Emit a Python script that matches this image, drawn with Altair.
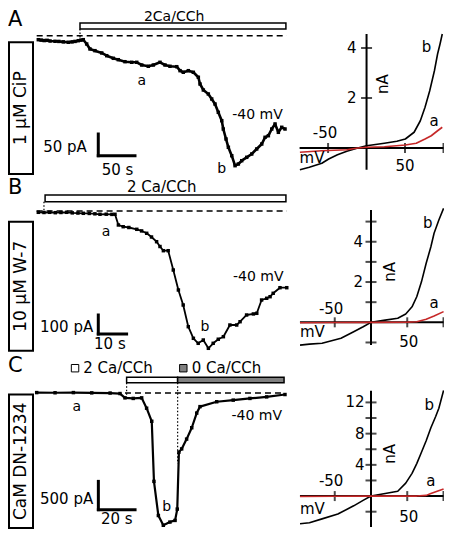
import altair as alt
import pandas as pd

FONT = "DejaVu Sans"
W, H = 436, 521
RED = "#c62828"
GRAY = "#808080"

# ---------------- time courses (time in s, current in pA) ----------------
A_t = [0, 4, 8, 12, 16, 22.8, 28, 34, 40.9, 46, 50, 54.5, 58, 61.3, 65.9,
       70.4, 77.2, 86.4, 93.2, 102.2, 109.0, 118.1, 127.2, 134.1, 140.9,
       149.9, 156.7, 165.8, 172.6, 179.4, 188.6, 193.1, 197.5, 204.4, 211.2,
       218.0, 220.3, 224.8, 231.6, 236.2, 240.7, 245.2, 249.9, 252.0, 255.7,
       258.9, 263.5, 268.0, 272.5, 277.1, 283.9, 290.7, 297.5, 304.4, 308.9,
       313.4, 318.0, 322.5, 327.0, 331.6, 336.1]
A_I = [0, -1, -2, -1.5, -3, -3.7, -4, -5, -6, -5, -4, -2.3, -1, 0, -9.9,
       -21.4, -25.3, -30.6, -36.9, -42.9, -46.1, -50.7, -52.1, -52.1, -58.3,
       -61.3, -58.3, -52.1, -58.3, -61.3, -62.2, -71.4, -75.1, -71.4, -75.1,
       -86.6, -102.1, -115.9, -125.1, -136.6, -148.2, -167.3, -186.6, -205.8, -228.8,
       -247.9, -267.3, -290.3, -286.4, -278.8, -271.0, -263.4, -251.8, -240.3, -224.9,
       -221.2, -205.8, -194.2, -213.4, -201.8, -205.8]

B_t = [0, 2, 4, 6, 8, 10, 12, 14, 15.9, 18, 20, 21.8, 24, 26, 27.1,
       28.3, 30.0, 32, 34.8, 36.5, 38.3, 40, 41.8, 43, 44.2,
       45.9, 47.7, 49.5, 51.2, 53.0, 54.8, 56.5, 58.3, 60.1, 61.8,
       63.6, 65.4, 67.7, 70.1, 71.3, 73.6, 76.0, 77.2, 78.9, 80.7,
       81.9, 83.0, 85.4, 87.8]
B_I = [0, -1, 0, -2, -1, 0, -3, -4, -5.3, -6, -8, -10.5, -10, -11, -10.5,
       -66.8, -75.8, -80, -89.5, -98, -110.5, -130, -154.7, -180, -202.1,
       -202.1, -303.7, -408.9, -487.9, -602.1, -663.2, -689.5, -672.1, -715.8, -689.5,
       -668, -654.7, -593.2, -593.2, -575.8, -540.5, -535, -531.6, -461.6, -452.6,
       -444.2, -426.3, -396.8, -396.8]

C_t = [0, 10, 20, 30, 40, 45.4, 48.1, 52.6, 57.2, 59.9, 62.7, 63.9, 66.3, 69.0,
       72.6, 75.4, 76.6, 77.5, 79.0, 81.7, 84.5, 87.2, 89.0, 98.1, 107.1, 116.2,
       125.3, 135.3]
C_I = [0, -3, 0, -5, -8, -17, -93, -103, -93, -276, -507, -1569, -2172, -2345,
       -2288, -2259, -2059, -1052, -995, -822, -621, -362, -248, -162, -133, -103,
       -76, -34]

# ---------------- I-V curves (mV, nA) ----------------
A_b_V = [-86.6, -74.4, -58.1, -49.2, -37.8, -25.6, -11.4, 0, 23.2, 39.4, 50.4,
         61.8, 69.9, 76.0, 82.1, 88.2, 92.3, 95.5, 98.4]
A_b_I = [-0.87, -0.77, -0.61, -0.44, -0.27, -0.13, 0, 0.09, 0.19, 0.27, 0.36,
         0.63, 1.09, 1.63, 2.29, 3.09, 3.76, 4.16, 4.56]
A_a_V = [-86.6, -58.1, -25.6, -11.4, 0, 23.2, 50.4, 64.6, 76.0, 84.1, 92.3, 98.4]
A_a_I = [-0.17, -0.11, -0.07, 0, 0.03, 0.05, 0.12, 0.19, 0.36, 0.49, 0.69, 0.83]

B_b_V = [-97.9, -84.9, -67.5, -54.4, -41.4, -23.9, -10.8, 0, 19.6, 36.9, 47.9,
         56.6, 63.1, 69.6, 76.1, 82.6, 87.0, 93.6, 100.1]
B_b_I = [-1.13, -1.08, -1.04, -0.91, -0.79, -0.47, -0.22, 0, 0.11, 0.20, 0.41,
         0.77, 1.27, 2.01, 2.93, 3.75, 4.42, 5.08, 5.66]
B_a_V = [-97.9, -50, 0, 50, 63.1, 76.1, 87.0, 100.1]
B_a_I = [-0.02, -0.01, 0, 0.01, 0.03, 0.15, 0.31, 0.53]

C_b_V = [-97.9, -84.9, -67.5, -45.7, -23.9, -10.9, 0, 19.6, 36.9, 47.9, 56.6,
         63.1, 69.6, 76.1, 82.6, 89.2, 93.6, 100.1]
C_b_I = [-3.55, -3.42, -2.92, -2.30, -1.25, -0.55, 0, 0.33, 0.62, 1.66, 2.91,
         4.16, 5.62, 7.08, 8.75, 10.2, 11.25, 13.54]
C_a_V = [-97.9, -50, 0, 50, 63.1, 76.1, 82.6, 91.3, 100.1]
C_a_I = [-0.05, -0.03, 0, 0, 0, 0.09, 0.34, 0.63, 0.92]

# ---------------- annotations (data units) ----------------
A_bar_t, A_bar_I = [56.8, 337.3], [24.5, 38.5]
B_bar_t, B_bar_I = [2.4, 87.5], [55.8, 91.0]
C_bar2_t, C_bar0_t, C_bar_I = [49.0, 76.8], [76.8, 134.8], [172, 269]
A_base_t, A_base_I = [-2.2, 338.4], 9.2
B_base_t, B_base_I = [-0.6, 87.8], 6.8
C_base_t, C_base_I = [48.1, 135.3], -7
A_dot = [(56.8, 24.5, -1)]
B_dot = [(2.0, 55.8, 0)]
C_dot = [(49.0, 172, -100), (76.8, 172, -1253)]
# scale bars: (t0, I_top, dt, dI)
A_sb = (81.7, -217.3, 50, 50)
B_sb = (21.2, -540.5, 10, 100)
C_sb = (33.6, -1569, 20, 500)

A_txt = [("a", 140.9, -95.9), ("b", 249.9, -297.9), ("-40 mV", 298.6, -174)]
A_txt_big = [("50 pA", 36.4, -247.9), ("50 s", 107.9, -300)]
A_bar_lab = [("2Ca/CCh", 185, 52.3)]
B_txt = [("a", 23.9, -102), ("b", 58.9, -602), ("-40 mV", 77.7, -339)]
B_txt_big = [("2 Ca/CCh", 43.6, 131.6), ("100 pA", 10.0, -602), ("10 s", 25.3, -693)]
C_txt = [("a", 21.8, -248), ("b", 70.8, -2029), ("-40 mV", 119.9, -421)]
C_txt_big = [("500 pA", 16.3, -1886), ("20 s", 43.6, -2240)]
C_leg = [("2 Ca/CCh", 20.9, 25.4, "white"), ("0 Ca/CCh", 79.9, 84.5, GRAY)]
C_leg_I = 431

IV = {
    "Aiv": dict(xaxis=[-87, 100], yaxis=[-0.87, 4.56], xt=[-50, 50, 100], yt=[2, 4],
                ylab=[("4", 4), ("2", 2)], ylabx=-13,
                other=[("-50", -54, 0.6), ("50", 50, -0.72)], mv=(-87, -0.4),
                ab=[("b", 78, 4.04), ("a", 87.8, 1.08)], na=(21.1, 2.56)),
    "Biv": dict(xaxis=[-98, 100], yaxis=[-1.13, 5.57], xt=[-50, 50, 100], yt=[-1, 1, 2, 3, 4, 5],
                ylab=[("4", 4), ("2", 2)], ylabx=-11,
                other=[("-50", -55, 0.65), ("50", 52, -0.96)], mv=(-98, -0.47),
                ab=[("b", 78.3, 4.93), ("a", 87.1, 0.96)], na=(26.1, 2.51)),
    "Civ": dict(xaxis=[-98, 100], yaxis=[-3.96, 13.5], xt=[-50, 50, 100], yt=[-2, 2, 4, 6, 8, 10, 12],
                ylab=[("12", 12), ("8", 8), ("4", 4)], ylabx=-9,
                other=[("-50", -55, 1.9), ("50", 52, -2.7)], mv=(-98, -1.7),
                ab=[("b", 80.5, 11.7), ("a", 82.6, 1.9)], na=(26.1, 5.4)),
}

# ---------------- layout: (x domain, x pixel range, y domain, y pixel range) ----------------
LAY = {
    "A": ([0, 340], [30.3, 279.9], [-300, 70], [161.9, 1.3]),
    "B": ([0, 90], [30.3, 285.0], [-750, 150], [346.8, 175.8]),
    "C": ([0, 140], [28.7, 285.6], [-2400, 500], [520.4, 356.3]),
    "Aiv": ([-100, 100], [281.6, 435.5], [-0.9, 4.6], [162.5, 25]),
    "Biv": ([-100, 100], [290.5, 435.5], [-1.2, 5.7], [338.5, 199.5]),
    "Civ": ([-100, 100], [290.5, 435.5], [-4, 13.5], [519.3, 382.7]),
}


def X(p, f="x"):
    d = LAY[p]
    return alt.X(f + ":Q", scale=alt.Scale(domain=d[0], range=d[1], nice=False, zero=False), axis=None)


def Y(p, f="y"):
    d = LAY[p]
    return alt.Y(f + ":Q", scale=alt.Scale(domain=d[2], range=d[3], nice=False, zero=False), axis=None)


def curve(p, xs, ys, color, width, pts=0):
    df = pd.DataFrame({"x": xs, "y": ys, "o": list(range(len(xs)))})
    base = alt.Chart(df).encode(x=X(p), y=Y(p), order="o:Q")
    out = [base.mark_line(color=color, strokeWidth=width, strokeJoin="round")]
    if pts:
        out.append(base.mark_square(size=pts, color=color, opacity=1))
    return out


def hrule(p, x0, x1, y, **kw):
    df = pd.DataFrame({"x": [x0], "x2": [x1], "y": [y]})
    return alt.Chart(df).mark_rule(**kw).encode(x=X(p), x2=alt.X2("x2:Q"), y=Y(p))


def vrule(p, x, y0, y1, **kw):
    df = pd.DataFrame({"x": [x], "y": [y0], "y2": [y1]})
    return alt.Chart(df).mark_rule(**kw).encode(x=X(p), y=Y(p), y2=alt.Y2("y2:Q"))


def rect(p, x0, x1, y0, y1, **kw):
    df = pd.DataFrame({"x": [x0], "x2": [x1], "y": [y0], "y2": [y1]})
    return alt.Chart(df).mark_rect(**kw).encode(x=X(p), x2=alt.X2("x2:Q"), y=Y(p), y2=alt.Y2("y2:Q"))


def labels(p, rows, size, align="center", angle=0, color="black"):
    df = pd.DataFrame(rows, columns=["label", "x", "y"])
    return alt.Chart(df).mark_text(font=FONT, fontSize=size, align=align, angle=angle,
                                   color=color, baseline="middle").encode(
        x=X(p), y=Y(p), text="label:N")


def ticks(p, xs, ys, orient, size):
    df = pd.DataFrame({"x": xs, "y": ys})
    return alt.Chart(df).mark_tick(orient=orient, size=size, thickness=2, color="black").encode(
        x=X(p), y=Y(p))


def scalebar(p, sb):
    t0, itop, dt, di = sb
    return [vrule(p, t0, itop, itop - di, color="black", strokeWidth=3, strokeCap="square"),
            hrule(p, t0, t0 + dt, itop - di, color="black", strokeWidth=3, strokeCap="square")]


ONE = pd.DataFrame({"k": [0]})


def side_box(y0, y1, text):
    r = alt.Chart(ONE).mark_rect(fill="white", stroke="black", strokeWidth=2).encode(
        x=alt.value(1), x2=alt.value(25), y=alt.value(y0), y2=alt.value(y1))
    t = alt.Chart(ONE).mark_text(text=text, angle=270, font=FONT, fontSize=17).encode(
        x=alt.value(13), y=alt.value((y0 + y1) / 2))
    return [r, t]


def letter(txt, y):
    return alt.Chart(ONE).mark_text(text=txt, font=FONT, fontSize=21, align="left").encode(
        x=alt.value(0), y=alt.value(y))


layers = []

# ---- time course panels
for p, t, I, lw, ps, bars, base, dots, sb, txt, txtb in [
    ("A", A_t, A_I, 2.6, 12, [(A_bar_t, A_bar_I, "white")], (A_base_t, A_base_I), A_dot, A_sb, A_txt, A_txt_big),
    ("B", B_t, B_I, 1.8, 12, [(B_bar_t, B_bar_I, "white")], (B_base_t, B_base_I), B_dot, B_sb, B_txt, B_txt_big),
    ("C", C_t, C_I, 2.2, 12, [(C_bar2_t, C_bar_I, "white"), (C_bar0_t, C_bar_I, GRAY)],
     (C_base_t, C_base_I), C_dot, C_sb, C_txt, C_txt_big),
]:
    for bt, bi, fill in bars:
        layers.append(rect(p, bt[0], bt[1], bi[0], bi[1], fill=fill, stroke="black", strokeWidth=1.5))
    layers.append(hrule(p, base[0][0], base[0][1], base[1], color="black", strokeWidth=1.5,
                        strokeDash=[6, 4]))
    for (dt_, d0, d1) in dots:
        layers.append(vrule(p, dt_, d0, d1, color="black", strokeWidth=1.2, strokeDash=[1.5, 2]))
    layers += curve(p, t, I, "black", lw, ps)
    layers += scalebar(p, sb)
    layers.append(labels(p, txt, 14))
    layers.append(labels(p, txtb, 15))

layers.append(labels("A", A_bar_lab, 14))

# legend of panel C
leg_sq = pd.DataFrame({"x": [r[1] for r in C_leg], "y": [C_leg_I] * 2, "f": [r[3] for r in C_leg]})
layers.append(alt.Chart(leg_sq).mark_square(size=55, stroke="black", strokeWidth=1, opacity=1).encode(
    x=X("C"), y=Y("C"), fill=alt.Fill("f:N", scale=None)))
layers.append(labels("C", [(r[0], r[2], C_leg_I) for r in C_leg], 15, align="left"))

# ---- I-V panels
for p, bV, bI, aV, aI in [("Aiv", A_b_V, A_b_I, A_a_V, A_a_I),
                          ("Biv", B_b_V, B_b_I, B_a_V, B_a_I),
                          ("Civ", C_b_V, C_b_I, C_a_V, C_a_I)]:
    cfg = IV[p]
    layers.append(hrule(p, cfg["xaxis"][0], cfg["xaxis"][1], 0, color="black", strokeWidth=2))
    layers.append(vrule(p, 0, cfg["yaxis"][0], cfg["yaxis"][1], color="black", strokeWidth=2))
    layers.append(ticks(p, cfg["xt"], [0] * len(cfg["xt"]), "vertical", 10))
    layers.append(ticks(p, [0] * len(cfg["yt"]), cfg["yt"], "horizontal", 11))
    layers += curve(p, bV, bI, "black", 1.6)
    layers += curve(p, aV, aI, RED, 1.6)
    layers.append(labels(p, [(l, cfg["ylabx"], v) for l, v in cfg["ylab"]], 15, align="right"))
    layers.append(labels(p, cfg["other"], 15))
    layers.append(labels(p, [("mV", cfg["mv"][0], cfg["mv"][1])], 15, align="left"))
    layers.append(labels(p, cfg["ab"], 15))
    layers.append(labels(p, [("nA", cfg["na"][0], cfg["na"][1])], 15, angle=270))

# ---- side boxes and panel letters
layers += side_box(34.3, 166, "1 μM CiP")
layers += side_box(213.7, 342.7, "10 μM W-7")
layers += side_box(386.6, 520, "CaM DN-1234")
layers += [letter("A", 12), letter("B", 180), letter("C", 358)]

chart = alt.layer(*layers).resolve_scale(x="independent", y="independent").properties(
    width=W, height=H, padding=0, autosize=alt.AutoSizeParams(type="none")
).configure_view(stroke=None)

chart.save("out.html", embed_options={"renderer": "svg", "actions": False})
